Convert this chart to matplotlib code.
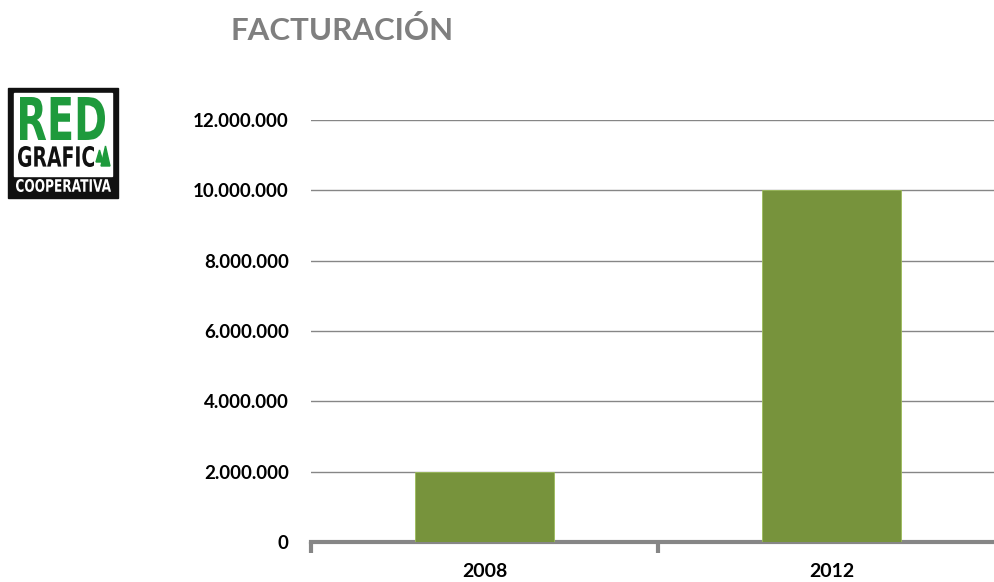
import matplotlib.pyplot as plt
from matplotlib.patches import Rectangle, PathPatch, Polygon
from matplotlib.textpath import TextPath
from matplotlib.font_manager import FontProperties
from matplotlib.transforms import Affine2D, IdentityTransform
from matplotlib.ticker import FuncFormatter

years = ["2008", "2012"]
facturacion = [2000000, 10000000]
yticks = [0, 2000000, 4000000, 6000000, 8000000, 10000000, 12000000]

plt.rcParams['font.family'] = ['Lato', 'DejaVu Sans']

fig = plt.figure(figsize=(9.95, 5.82), dpi=100)
ax = fig.add_axes([311 / 995, 40 / 582, 694 / 995, 422 / 582])

x = range(len(years))
ax.bar(x, facturacion, width=0.4, color='#77933C', edgecolor='#9bbb59', linewidth=0.6, zorder=3)
ax.set_xlim(-0.5, 1.5)
ax.set_ylim(0, 12000000)
ax.set_yticks(yticks)
ax.yaxis.set_major_formatter(FuncFormatter(lambda v, p: f"{int(v):,}".replace(",", ".")))
ax.set_xticks(list(x))
ax.set_xticklabels(years)
ax.set_xticks([-0.5, 0.5, 1.5], minor=True)

ax.grid(axis='y', color='#868686', linewidth=1, zorder=0)
for s in ['top', 'right', 'left']:
    ax.spines[s].set_visible(False)
ax.spines['bottom'].set_color('#868686')
ax.spines['bottom'].set_linewidth(3)
ax.tick_params(axis='y', length=0, pad=16, labelsize=13.5)
ax.tick_params(axis='x', which='major', length=0, pad=15, labelsize=14)
ax.tick_params(axis='x', which='minor', length=8, width=3, color='#868686')
for lab in ax.get_yticklabels() + ax.get_xticklabels():
    lab.set_fontweight('bold')

fig.text(342 / 995, 1 - 31 / 582, "FACTURACIÓN", ha='center', va='center',
         fontsize=22.5, fontweight='bold', color='#7f7f7f')

# logo, drawn in pixel coordinates (y measured from the top)
H = 582
def box(x0, y0, w, h, c):
    fig.patches.append(Rectangle((x0, H - y0 - h), w, h, transform=IdentityTransform(),
                                 color=c, zorder=5))

def fit_text(s, x0, y0, x1, y1, c):
    tp = TextPath((0, 0), s, size=100, prop=FontProperties(family='DejaVu Sans', weight='bold'))
    bb = tp.get_extents()
    tr = (Affine2D().translate(-bb.x0, -bb.y0)
          .scale((x1 - x0) / bb.width, (y1 - y0) / bb.height)
          .translate(x0, H - y1))
    fig.patches.append(PathPatch(tr.transform_path(tp), transform=IdentityTransform(),
                                 color=c, lw=0, zorder=6))

box(8, 88, 110, 110, '#111111')
box(14, 93, 98, 83, 'white')
fit_text("RED", 20, 97, 105, 140, '#1e9a3c')
fit_text("GRAFIC", 18, 146, 94, 167, '#111111')
fit_text("COOPERATIVA", 16, 179, 111, 192, 'white')
for tri in ([(96, 162), (103, 162), (99.5, 150)], [(101, 166), (110, 166), (105.5, 146)]):
    fig.patches.append(Polygon([(px, H - py) for px, py in tri], closed=True,
                               transform=IdentityTransform(), color='#1e9a3c', zorder=6))

fig.savefig("out.png", dpi=100)
